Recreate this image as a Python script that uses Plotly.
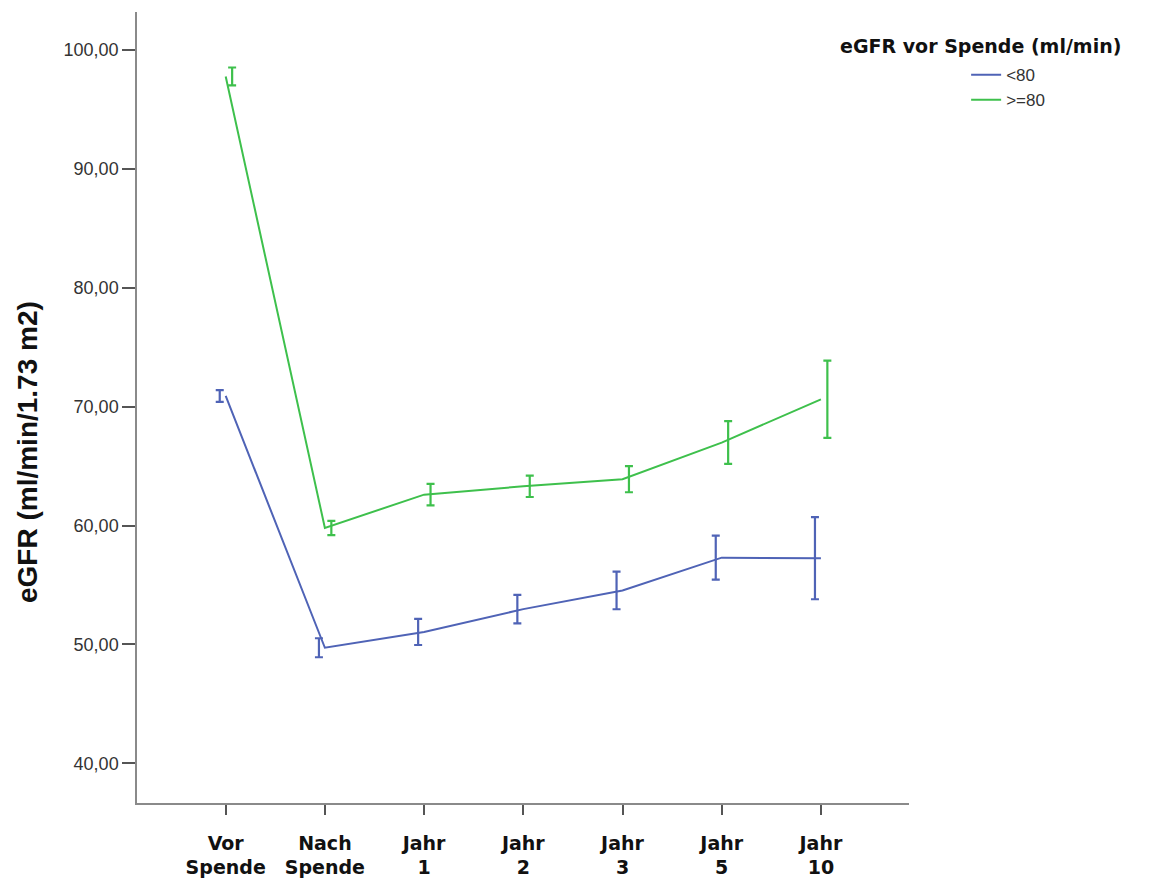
import plotly.graph_objects as go

categories = ["Vor<br>Spende", "Nach<br>Spende", "Jahr<br>1", "Jahr<br>2", "Jahr<br>3", "Jahr<br>5", "Jahr<br>10"]
series_names = ["<80", ">=80"]
mean_lt80 = [70.9, 49.72, 51.05, 52.97, 54.54, 57.3, 57.25]
err_lt80 = [0.5, 0.8, 1.1, 1.2, 1.58, 1.85, 3.45]
mean_ge80 = [97.78, 59.8, 62.6, 63.3, 63.9, 66.98, 70.62]
err_ge80 = [0.75, 0.6, 0.9, 0.9, 1.1, 1.8, 3.25]
y_ticks = [40, 50, 60, 70, 80, 90, 100]

colors = ["#4f63b6", "#3ec04c"]
dodge = [-0.06, 0.065]

fig = go.Figure()
xs = list(range(len(categories)))
for name, means, errs, col, dx in zip(series_names, [mean_lt80, mean_ge80], [err_lt80, err_ge80], colors, dodge):
    fig.add_trace(go.Scatter(x=xs, y=means, mode="lines", name=name,
                             line=dict(color=col, width=2), legendgroup=name))
    fig.add_trace(go.Scatter(x=[x + dx for x in xs], y=means, mode="markers", showlegend=False,
                             marker=dict(size=1, color="rgba(0,0,0,0)"),
                             error_y=dict(type="data", array=errs, visible=True,
                                          color=col, thickness=2.2, width=4)))

fig.update_layout(
    width=1174, height=881,
    margin=dict(l=137, r=265, t=12, b=78, autoexpand=False),
    paper_bgcolor="white", plot_bgcolor="white",
    separators=",.",
    showlegend=True,
    legend=dict(x=1.074, y=0.943, xanchor="left", yanchor="top",
                font=dict(family="Liberation Sans, Arial", size=17, color="#333333"),
                bgcolor="rgba(0,0,0,0)", traceorder="grouped", tracegroupgap=0),
    font=dict(family="Liberation Sans, Arial", color="#333333"),
)

fig.update_xaxes(range=[-0.894, 6.888], tickvals=xs, ticktext=["<b>" + c + "</b>" for c in categories],
                 showline=True, linecolor="#8a8a8a", linewidth=1.5, showgrid=False, zeroline=False,
                 ticks="outside", ticklen=10, tickwidth=2, tickcolor="#555555", automargin=False,
                 tickfont=dict(family="DejaVu Sans", size=19, color="#111111"),
                 ticklabelstandoff=12)
fig.update_yaxes(range=[36.66, 103.2], tickvals=y_ticks, tickformat=".2f",
                 showline=True, linecolor="#8a8a8a", linewidth=1.5, showgrid=False, zeroline=False,
                 ticks="outside", ticklen=13, tickwidth=2, tickcolor="#555555", automargin=False,
                 tickfont=dict(family="Liberation Sans, Arial", size=18, color="#333333"))

fig.add_annotation(text="<b>eGFR (ml/min/1.73 m2)</b>", textangle=-90,
                   xref="paper", yref="paper", x=-0.1425, y=0.4437,
                   xanchor="center", yanchor="middle", showarrow=False,
                   font=dict(family="Liberation Sans Narrow, Liberation Sans, Arial", size=28, color="#111111"))
fig.add_annotation(text="<b>eGFR vor Spende (ml/min)</b>",
                   xref="paper", yref="paper", x=(838 - 137) / 772, y=(803 - 46) / 791,
                   xanchor="left", yanchor="middle", showarrow=False,
                   font=dict(family="DejaVu Sans", size=19, color="#111111"))

fig.write_html("out.html")
